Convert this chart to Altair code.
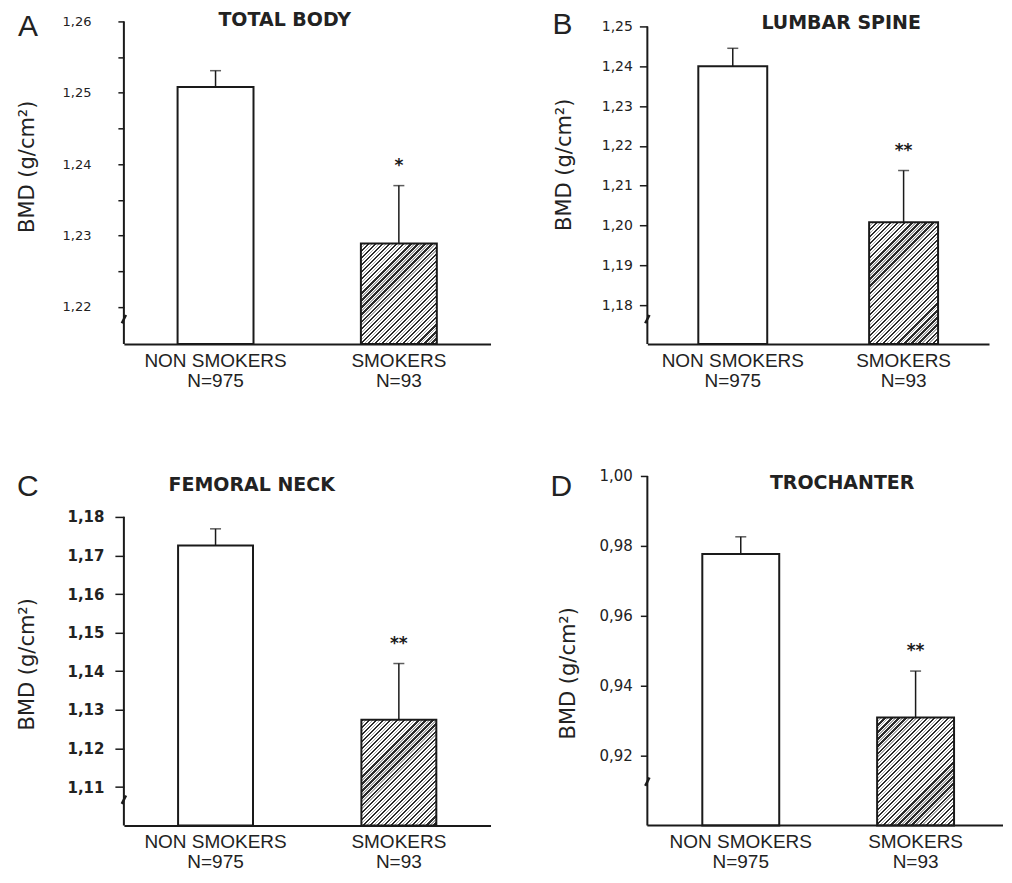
import math
import altair as alt
import pandas as pd

# ---------------- data ----------------
groups = ["NON SMOKERS", "SMOKERS"]
group_n = ["N=975", "N=93"]

letters = ["A", "B", "C", "D"]
titles = ["TOTAL BODY", "LUMBAR SPINE", "FEMORAL NECK", "TROCHANTER"]
significance = ["*", "**", "**", "**"]
y_title = "BMD (g/cm²)"

total_body_mean = [1.2508, 1.2289]
total_body_upper = [1.2531, 1.2370]
lumbar_spine_mean = [1.2400, 1.2008]
lumbar_spine_upper = [1.2445, 1.2138]
femoral_neck_mean = [1.1726, 1.1274]
femoral_neck_upper = [1.1769, 1.1420]
trochanter_mean = [0.9777, 0.9309]
trochanter_upper = [0.9826, 0.9442]

total_body_ticks = [1.22, 1.225, 1.23, 1.235, 1.24, 1.245, 1.25, 1.255, 1.26]
lumbar_spine_ticks = [1.18, 1.19, 1.20, 1.21, 1.22, 1.23, 1.24, 1.25]
femoral_neck_ticks = [1.11, 1.12, 1.13, 1.14, 1.15, 1.16, 1.17, 1.18]
trochanter_ticks = [0.92, 0.94, 0.96, 0.98, 1.00]

# (scale bottom, axis-line top, scale top)
total_body_axis = [1.2148, 1.26, 1.26]
lumbar_spine_axis = [1.1702, 1.25, 1.25125]
femoral_neck_axis = [1.10, 1.18, 1.1906]
trochanter_axis = [0.90, 1.00, 1.00]

# ---------------- style ----------------
INK = "#1a1a1a"
INK2 = "#222222"

styles = [
    dict(w=367, h=323, bw=76, lfs=13, lfw="normal", tsize=6, lpad=27,
         title=(161, 5), letter=(-106, 15), ytitle=(-96, 145), brk=25),
    dict(w=342, h=323, bw=69, lfs=14, lfw="normal", tsize=8, lpad=7,
         title=(194, 8), letter=(-95, 13), ytitle=(-83, 143), brk=25),
    dict(w=367, h=350, bw=75, lfs=15, lfw="bold", tsize=9, lpad=11,
         title=(128, 15), letter=(-107, 20), ytitle=(-96, 188), brk=26),
    dict(w=353, h=350, bw=77, lfs=15, lfw="normal", tsize=7, lpad=8,
         title=(195, 13), letter=(-97, 20), ytitle=(-79, 197), brk=44,
         xrange=[6, 356], xline=356),
]


def hatch_fill(W, H, period=5.0):
    dt = math.sqrt(2) * period * W / (W * W + H * H)
    pattern = [(0.0, "#2b2b2b"), (0.32, "#ffffff"), (0.56, "#a8a8a8"), (0.74, "#ffffff")]
    stops = []
    k = 0
    while k * dt < 1:
        for j, (f, c) in enumerate(pattern):
            nxt = pattern[j + 1][0] if j + 1 < len(pattern) else 1.0
            s = k * dt + f * dt
            e = k * dt + nxt * dt
            if s >= 1:
                break
            stops.append({"offset": round(s, 5), "color": c})
            stops.append({"offset": round(min(e, 1.0), 5), "color": c})
        k += 1
    return {"gradient": "linear", "x1": 0, "y1": 0, "x2": 1, "y2": H / W, "stops": stops}


x_label_expr = "[datum.label, datum.label == '%s' ? '%s' : '%s']" % (groups[0], group_n[0], group_n[1])
y_label_expr = ("abs(datum.value * 200 - round(datum.value * 100) * 2) > 0.5 ? '' : "
                "replace(format(datum.value, '.2f'), '.', ',')")


def panel(i, mean, upper, ticks, ax):
    st = styles[i]
    ymin, yaxis_top, ytop = ax
    W, H = st["w"], st["h"]
    df = pd.DataFrame({"group": groups, "n": group_n, "mean": mean, "upper": upper,
                       "star": ["", significance[i]]})
    ann = pd.DataFrame({"title": [titles[i]], "letter": [letters[i]]})

    xs = dict(domain=groups, paddingInner=0, paddingOuter=0)
    if "xrange" in st:
        xs["range"] = st["xrange"]
    x_axis = alt.Axis(title=None, labelAngle=0, ticks=False, domain="xline" not in st,
                      domainWidth=2, domainColor=INK, labelExpr=x_label_expr,
                      labelFont="Liberation Sans", labelFontSize=19, labelLineHeight=20,
                      labelPadding=7, labelColor=INK2)
    x = alt.X("group:N", sort=groups, scale=alt.Scale(**xs), axis=x_axis)
    x_plain = alt.X("group:N", sort=groups)

    yscale = alt.Scale(domain=[ymin, ytop], nice=False, zero=False)
    y_axis = alt.Axis(values=ticks, labelExpr=y_label_expr, domain=False, grid=False,
                      tickSize=st["tsize"], tickWidth=1.5, tickColor=INK,
                      labelFont="DejaVu Sans", labelFontSize=st["lfs"], labelFontWeight=st["lfw"],
                      labelColor=INK2, labelPadding=st["lpad"], labelOverlap=False,
                      labelFlush=False, labelBound=False,
                      titleFont="DejaVu Sans", titleFontSize=21, titleFontWeight="normal",
                      titleColor=INK2, titleAngle=270, titleAlign="center", titleBaseline="middle",
                      titleX=st["ytitle"][0], titleY=st["ytitle"][1])

    ns = alt.Chart(df).transform_filter(alt.datum.group == groups[0]).mark_bar(
        fill="white", stroke=INK, strokeWidth=2, width=st["bw"]
    ).encode(x=x, y=alt.Y("mean:Q", scale=yscale, title=y_title, axis=y_axis),
             y2=alt.datum(ymin))

    h_s = (mean[1] - ymin) / (ytop - ymin) * H
    sm = alt.Chart(df).transform_filter(alt.datum.group == groups[1]).mark_bar(
        fill=hatch_fill(st["bw"], h_s), stroke=INK, strokeWidth=2, width=st["bw"]
    ).encode(x=x_plain, y=alt.Y("mean:Q", title=y_title), y2=alt.datum(ymin))

    axis_line = alt.Chart(ann).mark_rule(color=INK, strokeWidth=2).encode(
        x=alt.value(0), y=alt.datum(ymin), y2=alt.datum(yaxis_top))

    err = alt.Chart(df).mark_rule(color=INK, strokeWidth=1.5).encode(
        x=x_plain, y=alt.Y("mean:Q", title=y_title), y2="upper:Q")
    cap = alt.Chart(df).mark_tick(color=INK, thickness=1.5, size=11).encode(
        x=x_plain, y=alt.Y("upper:Q", title=y_title))
    stars = alt.Chart(df).mark_text(font="DejaVu Sans", fontSize=17, fontWeight="bold",
                                    color=INK, baseline="alphabetic", dy=-15).encode(
        x=x_plain, y=alt.Y("upper:Q", title=y_title), text="star:N")

    title = alt.Chart(ann).mark_text(font="DejaVu Sans", fontSize=19, fontWeight="bold",
                                     color=INK2, align="center", baseline="alphabetic").encode(
        x=alt.value(st["title"][0]), y=alt.value(st["title"][1]), text="title:N")
    letter = alt.Chart(ann).mark_text(font="Liberation Sans", fontSize=30, color=INK2,
                                      align="left", baseline="alphabetic").encode(
        x=alt.value(st["letter"][0]), y=alt.value(st["letter"][1]), text="letter:N")
    brk = alt.Chart(ann).mark_point(shape="M-0.5,1L0.5,-1", size=70, filled=False,
                                    strokeWidth=2.5, color=INK, opacity=1).encode(
        x=alt.value(0), y=alt.value(H - st["brk"]))

    layers = [ns, sm, axis_line, err, cap, stars, title, letter, brk]
    if "xline" in st:
        layers.append(alt.Chart(ann).mark_rule(color=INK, strokeWidth=2).encode(
            x=alt.value(0), x2=alt.value(st["xline"]), y=alt.value(H)))
    return alt.layer(*layers).properties(width=W, height=H)


pA = panel(0, total_body_mean, total_body_upper, total_body_ticks, total_body_axis)
pB = panel(1, lumbar_spine_mean, lumbar_spine_upper, lumbar_spine_ticks, lumbar_spine_axis)
pC = panel(2, femoral_neck_mean, femoral_neck_upper, femoral_neck_ticks, femoral_neck_axis)
pD = panel(3, trochanter_mean, trochanter_upper, trochanter_ticks, trochanter_axis)

chart = alt.concat(pA, pB, pC, pD, columns=2,
                   spacing={"row": 105, "column": 157},
                   bounds="flush", align="all").properties(
    padding={"left": 9, "top": 2, "right": 0, "bottom": 1},
    background="white",
).configure_view(stroke=None)

chart.save("out.html", embed_options={"renderer": "svg", "actions": False})
